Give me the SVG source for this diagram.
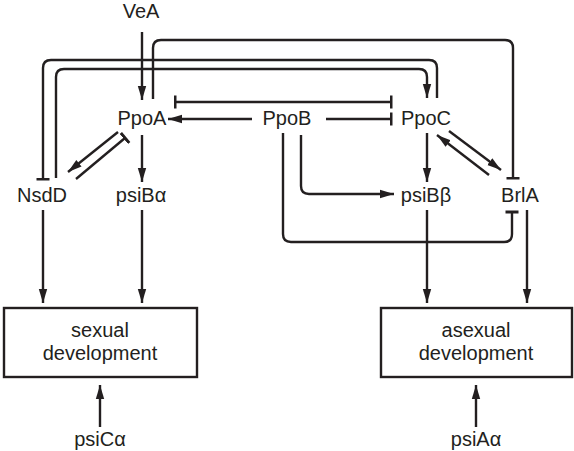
<svg xmlns="http://www.w3.org/2000/svg" width="574" height="451" viewBox="0 0 574 451">
<style>
text{font-family:"Liberation Sans",Arial,sans-serif;font-size:20px;fill:#231f20;text-anchor:middle}
.c{fill:none;stroke:#231f20;stroke-width:2.4}
.a{marker-end:url(#arr)}
.t{marker-end:url(#tee)}
.box{fill:#fff;stroke:#231f20;stroke-width:2.4}
</style>
<defs>
<marker id="arr" markerUnits="userSpaceOnUse" markerWidth="15" markerHeight="10" refX="14" refY="5" orient="auto" viewBox="0 0 15 10">
<path d="M0,0.8 L14,5 L0,9.2 z" fill="#231f20"/>
</marker>
<marker id="tee" markerUnits="userSpaceOnUse" markerWidth="4" markerHeight="14" refX="1.5" refY="7" orient="auto" viewBox="0 0 4 14">
<rect x="0" y="0.5" width="3" height="13" fill="#231f20"/>
</marker>
<marker id="teeS" markerUnits="userSpaceOnUse" markerWidth="4" markerHeight="14" refX="1.5" refY="7" orient="auto" viewBox="0 0 4 14">
<rect x="0" y="0.5" width="3" height="13" fill="#231f20"/>
</marker>
</defs>
<g id="connectors">
<path class="c a" d="M142,32 V100"/>
<path class="c t" d="M153,99 V48 Q153,40 161,40 H505 Q513,40 513,48 V178"/>
<path class="c t" d="M437,98 V68 Q437,60 429,60 H51 Q43,60 43,68 V179"/>
<path class="c a" d="M56,178 V77 Q56,69 64,69 H419 Q427,69 427,77 V98"/>
<path class="c t" d="M175,102 H391" style="marker-start:url(#teeS)"/>
<path class="c a" d="M252,119 H168"/>
<path class="c t" d="M326,119 H391"/>
<path class="c a" d="M301,135 V186 Q301,194 309,194 H394"/>
<path class="c t" d="M283,133 V234 Q283,242 291,242 H504 Q512,242 512,234 V212"/>
<path class="c a" d="M118,132 L68,172"/>
<path class="c t" d="M76,179 L125,138"/>
<path class="c a" d="M142,135 V182"/>
<path class="c a" d="M427,133 V182"/>
<path class="c a" d="M449,131 L501,170"/>
<path class="c a" d="M489,175 L437,135"/>
<path class="c a" d="M43,210 V303"/>
<path class="c a" d="M142,210 V303"/>
<path class="c a" d="M427,210 V303"/>
<path class="c a" d="M527,210 V303"/>
<path class="c a" d="M100,427 V385"/>
<path class="c a" d="M476,427 V385"/>
</g>
<g id="VeA"><text x="141" y="18">VeA</text></g>
<g id="PpoA"><text x="142" y="125">PpoA</text></g>
<g id="PpoB"><text x="287" y="125">PpoB</text></g>
<g id="PpoC"><text x="426" y="125">PpoC</text></g>
<g id="NsdD"><text x="42" y="202">NsdD</text></g>
<g id="psiBa"><text x="141" y="202">psiBα</text></g>
<g id="psiBb"><text x="426" y="202">psiBβ</text></g>
<g id="BrlA"><text x="520" y="202">BrlA</text></g>
<g id="sexual"><rect class="box" x="4" y="308" width="193" height="69"/><text x="100" y="337">sexual</text><text x="100" y="360">development</text></g>
<g id="asexual"><rect class="box" x="381" y="308" width="191" height="69"/><text x="476" y="337">asexual</text><text x="476" y="360">development</text></g>
<g id="psiCa"><text x="100" y="446">psiCα</text></g>
<g id="psiAa"><text x="476" y="446">psiAα</text></g>
</svg>
